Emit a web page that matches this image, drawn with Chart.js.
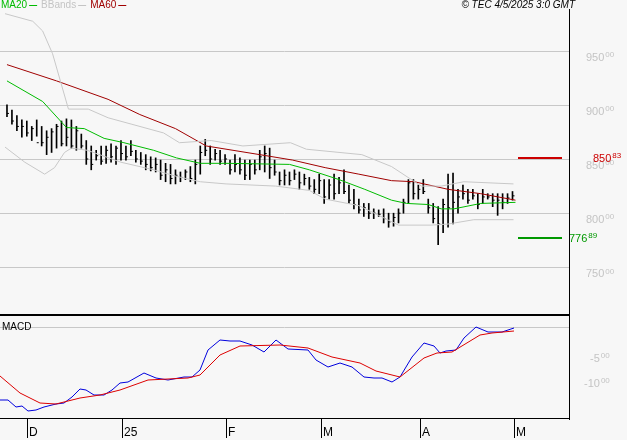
<!DOCTYPE html>
<html>
<head>
<meta charset="utf-8">
<script src="https://cdn.jsdelivr.net/npm/chart.js@4"></script>
<style>
  body { margin: 0; background: #f7f7f7; }
  #wrap { position: relative; width: 627px; height: 440px; background: #f7f7f7; }
  canvas { position: absolute; left: 0; }
</style>
</head>
<body>
<div id="wrap">
  <canvas id="price" width="627" height="316" style="top:0"></canvas>
  <canvas id="macd" width="627" height="124" style="top:316px"></canvas>
</div>
<script>
// bars, one per trading day (index = day)
var highs = [900,895,890,886,885,880,886,880,876,878,882,885,887,886,880,873,867,862,858,862,
  862,864,862,867,862,867,858,856,854,852,851,849,846,845,840,838,840,843,849,862,
  868,862,859,858,854,849,854,851,849,849,849,858,862,860,849,838,840,838,840,838,
  836,833,831,836,831,831,836,833,840,826,822,813,809,809,804,803,804,800,800,804,
  813,831,831,826,831,813,809,806,813,836,837,822,826,822,822,818,822,818,818,818,
  818,818,820];
var lows = [889,882,876,870,871,867,871,862,854,856,860,862,862,860,858,860,845,840,849,845,
  846,847,845,849,849,853,847,845,840,839,838,831,829,827,827,829,831,829,827,836,
  853,845,849,845,845,836,838,836,831,831,836,840,838,832,835,826,826,826,831,822,
  826,822,818,818,809,813,813,818,818,809,804,800,797,795,795,797,791,787,788,791,
  800,809,813,813,818,800,791,771,782,787,790,800,813,809,813,804,809,813,806,798,
  804,809,812];
var closes = [892,885,880,880,874,878,865,865,870,875,880,864,870,862,876,862,850,845,853,848,
  858,852,860,855,852,857,850,848,845,842,845,835,840,832,835,833,838,832,845,856,
  858,850,855,848,850,840,845,840,835,845,840,852,855,842,838,830,835,830,836,828,
  832,825,822,830,815,826,818,828,820,812,808,803,805,800,800,799,795,792,796,800,
  810,828,818,822,820,805,795,790,808,805,810,815,818,812,816,808,815,815,812,812,
  810,814,816];

// indicator lines: [day, value]
var ma20 = [[0,922],[7.2,903],[12,879],[15.6,878],[19.6,869],[23.6,865],[29.6,858],[34.2,851],
  [39,846],[44.2,846],[57,845],[61,840],[67,831],[72.2,822],[77.6,812],[80.6,809],[85,808],
  [87.6,804],[90.2,804],[95.6,809],[102.6,810]];
var ma60 = [[0,937],[10,922],[20.4,905],[26.8,891],[34,878],[40.2,862],[51,854],[57.6,849],
  [64.2,842],[71,836],[77.6,830],[82.2,829],[89,822],[95.6,818],[102.6,812]];
var bbUpper = [[-0.4,984],[5.2,977],[7.2,968],[9.2,947],[12.4,896],[16.4,896],[20.4,888],[25.2,882],
  [31.6,874],[34.8,865],[41.2,867],[47.6,862],[57.2,865],[60.4,859],[71.6,854],[77.6,843],
  [83.6,825],[87.6,825],[92.2,829],[102.2,827]];
var bbLower = [[-0.4,861],[3.6,847],[7.6,836],[9.6,842],[11.6,856],[13,860],[16.2,858],[23,847],
  [29.6,840],[34.2,834],[39,829],[44.2,827],[54.2,825],[61,821],[64.2,813],[71,807],[75,798],
  [79,789],[85.6,789],[89,790],[94.2,794],[102.2,794]];
var macdLine = [[-0.4,-1460],[1.2,-1460],[2.8,-1600],[4,-1580],[5.2,-1680],[6.8,-1660],[8.4,-1600],
  [10.8,-1540],[12.4,-1520],[14,-1400],[15.6,-1240],[16.8,-1260],[18.4,-1360],[20.4,-1360],
  [22,-1260],[23.6,-1120],[25.2,-1100],[28.4,-920],[30.8,-1020],[33.2,-1060],[36.4,-1000],
  [38,-1000],[39.6,-860],[41.2,-460],[43.6,-260],[45.6,-280],[47.6,-280],[50,-360],[52.4,-500],
  [54.8,-260],[57.2,-440],[61.2,-460],[62.8,-660],[65.2,-800],[67.6,-720],[70,-800],[72.4,-1000],
  [74.4,-1020],[76,-1020],[78,-1100],[79.6,-1000],[82,-600],[84.4,-320],[86.4,-380],[87.6,-520],
  [88.8,-480],[90.8,-460],[92.4,-220],[94.8,0],[97.2,-100],[100,-100],[102.4,-20]];
var signalLine = [[-0.4,-980],[3.6,-1320],[7.6,-1520],[10.8,-1540],[15.6,-1420],[19.6,-1360],
  [23.6,-1260],[29.2,-1060],[37.2,-1020],[39.6,-960],[43.6,-560],[47.6,-380],[55.6,-360],
  [61.2,-420],[66,-600],[71.6,-720],[74.8,-880],[79.6,-1000],[84.4,-620],[87,-520],[90,-500],
  [95.6,-160],[98,-120],[102.4,-80]];

var priceTicks = [950, 900, 850, 800, 750];
var macdTicks = [-500, -1000];
var monthTicks = [5, 24, 44.8, 63.8, 83.6, 102.4];
var monthLabels = ['D', '25', 'F', 'M', 'A', 'M'];
var lastMarks = [{v: 850.83, txt: ['850', '83'], color: '#cc0000'}, {v: 776.89, txt: ['776', '89'], color: '#009900'}];

var X_MIN = -0.4, X_MAX = 113.4;
function pts(a) { return a.map(function (p) { return {x: p[0], y: p[1]}; }); }
function line(data, color) {
  return {type: 'line', data: pts(data), borderColor: color, borderWidth: 1, pointRadius: 0, tension: 0};
}

function splitLabel(ctx, parts, x, y, color) {
  ctx.fillStyle = color;
  ctx.font = '11px "Liberation Sans", Arial';
  ctx.textBaseline = 'middle';
  ctx.textAlign = 'left';
  ctx.fillText(parts[0], x, y);
  var w = ctx.measureText(parts[0]).width;
  ctx.font = '8px "Liberation Sans", Arial';
  ctx.fillText(parts[1], x + w + 1, y - 3);
}

var pricePlugin = {
  id: 'priceDeco',
  beforeDatasetsDraw: function (chart) {
    var ctx = chart.ctx, y = chart.scales.y;
    ctx.save();
    ctx.strokeStyle = '#c8c8c8';
    ctx.lineWidth = 1;
    priceTicks.forEach(function (v) {
      var py = Math.round(y.getPixelForValue(v)) + 0.5;
      ctx.beginPath(); ctx.moveTo(0, py); ctx.lineTo(569, py); ctx.stroke();
    });
    ctx.restore();
  },
  afterDraw: function (chart) {
    var ctx = chart.ctx, y = chart.scales.y;
    ctx.save();
    priceTicks.forEach(function (v) {
      splitLabel(ctx, [String(v), '00'], 586, y.getPixelForValue(v) + 7, '#c4c4c4');
    });
    lastMarks.forEach(function (m, k) {
      var py = Math.round(y.getPixelForValue(m.v));
      ctx.fillStyle = m.color;
      ctx.fillRect(518, py - 1, 44, 2);
      splitLabel(ctx, m.txt, k === 0 ? 593 : 569, py + 1, m.color);
    });
    // axis lines
    ctx.fillStyle = '#000';
    ctx.fillRect(569, 9, 1, 307);
    ctx.fillRect(0, 314, 570, 2);
    // legend
    ctx.font = '10px "Liberation Sans", Arial';
    ctx.textBaseline = 'middle';
    ctx.textAlign = 'left';
    var items = [['MA20', '#00bb00'], ['BBands', '#c4c4c4'], ['MA60', '#a00000']];
    var x = 1;
    items.forEach(function (it) {
      ctx.fillStyle = it[1];
      ctx.fillText(it[0], x, 5);
      x += ctx.measureText(it[0]).width + 2;
      ctx.fillRect(x, 5, 8, 1);
      x += 12;
    });
    ctx.fillStyle = '#000';
    ctx.font = 'italic 10px "Liberation Sans", Arial';
    ctx.textAlign = 'right';
    ctx.fillText('\u00a9 TEC 4/5/2025 3:0 GMT', 575, 5);
    ctx.restore();
  }
};

var macdPlugin = {
  id: 'macdDeco',
  beforeDatasetsDraw: function (chart) {
    var ctx = chart.ctx, y = chart.scales.y;
    ctx.save();
    ctx.strokeStyle = '#c8c8c8';
    var py = Math.round(y.getPixelForValue(0)) + 0.5;
    ctx.beginPath(); ctx.moveTo(0, py); ctx.lineTo(569, py); ctx.stroke();
    ctx.restore();
  },
  afterDraw: function (chart) {
    var ctx = chart.ctx, y = chart.scales.y, x = chart.scales.x;
    ctx.save();
    macdTicks.forEach(function (v) {
      var s = String(v);
      splitLabel(ctx, [s.slice(0, -2), '00'], v === -500 ? 590 : 584, y.getPixelForValue(v) + 7, '#c4c4c4');
    });
    ctx.fillStyle = '#000';
    ctx.font = '10px "Liberation Sans", Arial';
    ctx.textBaseline = 'middle';
    ctx.fillText('MACD', 2, 11);
    ctx.fillRect(569, 0, 1, 104);
    ctx.fillRect(0, 102, 570, 1);
    ctx.font = '12px "Liberation Sans", Arial';
    ctx.textBaseline = 'top';
    monthTicks.forEach(function (t, i) {
      var px = Math.round(x.getPixelForValue(t));
      ctx.fillRect(px, 103, 1, 19);
      ctx.fillText(monthLabels[i], px + 2, 111);
    });
    ctx.restore();
  }
};

var hidden = {display: false};

new Chart(document.getElementById('price'), {
  type: 'bar',
  data: {
    datasets: [
      line(bbUpper, '#c8c8c8'),
      line(bbLower, '#c8c8c8'),
      line(ma60, '#a00000'),
      line(ma20, '#00bb00'),
      {type: 'bar', data: highs.map(function (h, i) { return {x: i, y: [lows[i], h]}; }),
        backgroundColor: '#000', barThickness: 1, borderWidth: 0},
      {type: 'scatter', data: closes.map(function (c, i) { return {x: i, y: c}; }),
        pointStyle: 'dash', radius: 2, borderColor: '#000', borderWidth: 1, backgroundColor: '#000'}
    ]
  },
  options: {
    responsive: false, animation: false,
    layout: {padding: {right: 58}},
    plugins: {legend: hidden, tooltip: {enabled: false}},
    scales: {
      x: {type: 'linear', min: X_MIN, max: X_MAX, display: false, offset: false},
      y: {min: 709.8, max: 992, display: false}
    }
  },
  plugins: [pricePlugin]
});

new Chart(document.getElementById('macd'), {
  type: 'line',
  data: {
    datasets: [line(signalLine, '#dd0000'), line(macdLine, '#0000dd')]
  },
  options: {
    responsive: false, animation: false,
    layout: {padding: {right: 58, bottom: 21}},
    plugins: {legend: hidden, tooltip: {enabled: false}},
    scales: {
      x: {type: 'linear', min: X_MIN, max: X_MAX, display: false},
      y: {min: -1840, max: 220, display: false}
    }
  },
  plugins: [macdPlugin]
});
</script>
</body>
</html>
